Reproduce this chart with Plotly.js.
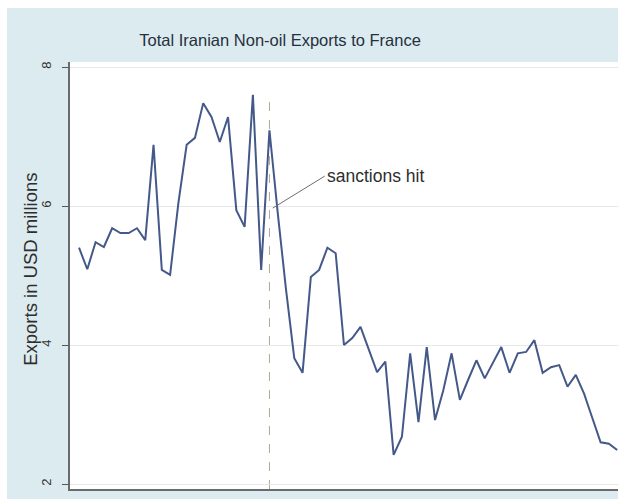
<!DOCTYPE html>
<html>
<head>
<meta charset="utf-8">
<script src="https://cdn.plot.ly/plotly-3.0.1.min.js"></script>
<style>
  html, body { margin: 0; padding: 0; background: #ffffff; }
  #chart { position: absolute; left: 7px; top: 8px; width: 611px; height: 491px; }
</style>
</head>
<body>
<div id="chart"></div>
<script>
// Monthly total Iranian non-oil exports to France (USD millions)
const exportsUSDm = [
  5.40, 5.09, 5.48, 5.41, 5.68, 5.61, 5.61, 5.68, 5.51, 6.88,
  5.08, 5.01, 6.04, 6.88, 6.98, 7.48, 7.28, 6.92, 7.28, 5.94,
  5.70, 7.60, 5.08, 7.09, 5.90, 4.80, 3.81, 3.60, 4.98, 5.08,
  5.40, 5.32, 4.00, 4.10, 4.26, 3.95, 3.61, 3.76, 2.42, 2.68,
  3.88, 2.89, 3.97, 2.92, 3.35, 3.88, 3.21, 3.50, 3.78, 3.52,
  3.75, 3.97, 3.60, 3.88, 3.90, 4.07, 3.60, 3.68, 3.71, 3.40,
  3.57, 3.30, 2.95, 2.60, 2.58, 2.49
];
const yTickValues = [2, 4, 6, 8];
const yTickLabels = ["2", "4", "6", "8"];
const sanctionsIndex = 23;          // period when sanctions hit
const sanctionsLabel = "sanctions hit";
const chartTitle = "Total Iranian Non-oil Exports to France";
const yTitle = "Exports in USD millions";

const lineTrace = {
  y: exportsUSDm,
  type: "scatter",
  mode: "lines",
  line: { color: "#44598a", width: 2 },
  hoverinfo: "y"
};

const layout = {
  width: 611,
  height: 491,
  margin: { l: 63, r: 0, t: 54, b: 10, pad: 0 },
  paper_bgcolor: "#dcebf0",
  plot_bgcolor: "#ffffff",
  showlegend: false,
  font: { family: "Liberation Sans, Arial, sans-serif", color: "#333333" },
  title: {
    text: chartTitle,
    font: { size: 16.5, color: "#26303d", family: "Liberation Sans, Arial, sans-serif" },
    xref: "container", x: 0.447, xanchor: "center",
    yref: "container", y: 0.935, yanchor: "middle"
  },
  xaxis: {
    range: [-1.09, 65.1],
    showticklabels: false,
    ticks: "",
    showgrid: false,
    zeroline: false,
    showline: true,
    linecolor: "#6b6b6b",
    linewidth: 2
  },
  yaxis: {
    range: [1.928, 8.072],
    tickvals: yTickValues,
    ticktext: yTickLabels,
    tickangle: -90,
    ticks: "outside",
    ticklen: 6,
    tickwidth: 1,
    tickcolor: "#555555",
    ticklabelstandoff: 6,
    tickfont: { size: 13, color: "#333333" },
    showgrid: true,
    gridcolor: "#e6e9ea",
    gridwidth: 1,
    zeroline: false,
    showline: true,
    linecolor: "#6b6b6b",
    linewidth: 2
  },
  shapes: [
    {
      type: "line",
      xref: "x", yref: "y",
      x0: sanctionsIndex, x1: sanctionsIndex,
      y0: 1.928, y1: 7.55,
      line: { color: "#b3a595", width: 1, dash: "dash" },
      layer: "below"
    }
  ],
  annotations: [
    {
      x: sanctionsIndex + 0.4, y: 5.97,
      xref: "x", yref: "y",
      text: sanctionsLabel,
      showarrow: true,
      arrowhead: 0,
      arrowwidth: 1,
      arrowcolor: "#6e6e6e",
      standoff: 0,
      ax: 52, ay: -32,
      xanchor: "left",
      yanchor: "middle",
      font: { size: 17.5, color: "#2e2e2e" }
    },
    {
      xref: "paper", yref: "paper",
      x: -0.0735, y: 0.515,
      xanchor: "center", yanchor: "middle",
      textangle: -90,
      showarrow: false,
      text: yTitle,
      font: { size: 18.5, color: "#2e2e2e" }
    }
  ]
};

Plotly.newPlot("chart", [lineTrace], layout, { displayModeBar: false, staticPlot: true });
</script>
</body>
</html>
